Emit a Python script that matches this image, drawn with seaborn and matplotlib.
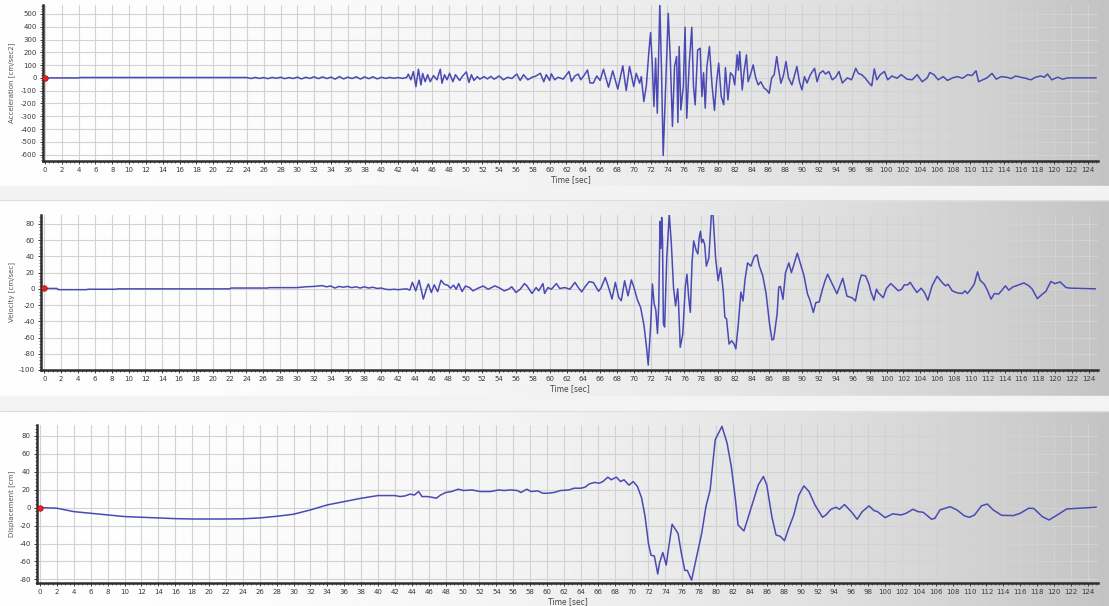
import numpy as np
import pandas as pd
import seaborn as sns
import matplotlib.pyplot as plt
import matplotlib.transforms as mtransforms
from matplotlib.ticker import MultipleLocator

# Accélérogramme : (temps [s], accélération [cm/sec2])
acc_points = [
    (0, 0), (4, 0), (4.2, 3), (24, 3), (24.5, -5), (25, 4), (25.5, -4), (26, 3), (26.5, -6),
    (27, 4), (27.5, -3), (28, 5), (28.5, -6), (29, 3), (29.5, -5), (30, 6), (30.5, -8),
    (31, 5), (31.5, -4), (32, 9), (32.5, -6), (33, 8), (33.5, -5), (34, 6), (34.5, -10),
    (35, 11), (35.5, -8), (36, 6), (36.5, -5), (37, 9), (37.5, -9), (38, 8), (38.5, -6),
    (39, 9), (39.5, -8), (40, 5), (40.5, -4), (41, 4), (41.5, -3), (42, 3), (42.5, -4),
    (43, 4), (43.2, 29), (43.5, -15), (43.8, 50), (44.1, -68), (44.4, 68), (44.7, -55),
    (44.9, 35), (45.2, -30), (45.5, 25), (45.8, -30), (46.2, 18), (46.6, -15), (47, 68),
    (47.2, -42), (47.5, 25), (47.8, -15), (48.1, 36), (48.5, -30), (48.8, 25), (49.3, -20),
    (49.6, 10), (50.1, 47), (50.4, -36), (50.7, 25), (51, -20), (51.4, 10), (51.7, -10),
    (52.2, 10), (52.6, -8), (53, 12), (53.4, -10), (54, 15), (54.5, -15), (55, 5), (55.5, -5),
    (56.1, 30), (56.5, -20), (56.9, 25), (57.4, -15), (58, 8), (58.3, 12), (58.9, 36),
    (59.3, -30), (59.6, 25), (60, -20), (60.2, 32), (60.6, -15), (61, 5), (61.6, -10),
    (62.3, 50), (62.6, -28), (63, 15), (63.4, 30), (63.7, -15), (64.1, 20), (64.5, 62),
    (64.8, -40), (65.2, -40), (65.6, 15), (66.0, -20), (66.4, 68), (67.0, -73), (67.5, 55),
    (68.1, -88), (68.7, 94), (69.1, -99), (69.5, 89), (70.0, -68), (70.3, 36), (70.7, -42),
    (70.9, 10), (71.2, -185), (71.5, -60), (71.8, 205), (72.0, 354), (72.2, 115), (72.4, -224),
    (72.6, 154), (72.8, -276), (73.1, 578), (73.3, 62), (73.5, -607), (73.8, -40), (74.1, 505),
    (74.35, 140), (74.6, -380), (74.85, 90), (75.1, 167), (75.25, -349), (75.4, 245),
    (75.6, -250), (75.9, -60), (76.1, 396), (76.3, -315), (76.6, 115), (76.9, 396), (77.1, -60),
    (77.3, -211), (77.6, 219), (77.9, 232), (78.1, -146), (78.3, 40), (78.5, -237), (78.7, 90),
    (79.0, 245), (79.3, -50), (79.6, -255), (79.85, -30), (80.1, 115), (80.4, -146),
    (80.7, -210), (80.9, 80), (81.2, -172), (81.5, 40), (81.8, 15), (82.0, -55), (82.3, 180),
    (82.45, 60), (82.6, 206), (82.9, -94), (83.1, 40), (83.4, 180), (83.6, -30), (83.9, 30),
    (84.2, 102), (84.5, 0), (84.8, -55), (85.1, -30), (85.5, -80), (85.8, -94), (86.1, -120),
    (86.4, 0), (86.7, 25), (87.0, 167), (87.2, 75), (87.5, -42), (87.8, 20), (88.1, 128),
    (88.4, 0), (88.8, -55), (89.1, 15), (89.4, 89), (89.7, -30), (90.0, -94), (90.3, 10),
    (90.6, -40), (91.0, 25), (91.5, 75), (91.8, -30), (92.1, 35), (92.5, 55), (92.8, 30),
    (93.2, 50), (93.6, -15), (94.0, 5), (94.4, 50), (94.8, -40), (95.4, 0), (95.9, -15),
    (96.4, 75), (96.7, 35), (97.1, 25), (97.5, 0), (98.0, -42), (98.3, -62), (98.6, 70),
    (98.9, -15), (99.3, 25), (99.8, 50), (100.2, -15), (100.7, 15), (101.3, -3), (101.8, 25),
    (102.5, -10), (103.1, -15), (103.7, 25), (104.3, -30), (104.9, 0), (105.2, 42), (105.7, 25),
    (106.2, -15), (106.8, 10), (107.3, -20), (107.9, 0), (108.5, 10), (109.1, -3), (109.7, 25),
    (110.2, 18), (110.7, 55), (111.0, -30), (111.5, -15), (112.0, 0), (112.6, 35), (113.1, -10),
    (113.7, 10), (114.3, 5), (114.9, -5), (115.4, 15), (116.0, 5), (116.6, -3), (117.2, -15),
    (117.8, 5), (118.4, 15), (118.8, 5), (119.2, 30), (119.7, -15), (120.4, 5), (121.0, -10),
    (121.6, 0), (125.0, 0),
]

# Vitesse : (temps [s], vitesse [cm/sec])
vel_points = [
    (0, 0.5), (1.5, 0.5), (1.7, -1), (5, -1), (5.2, -0.5), (8.5, -0.5), (8.7, 0), (22, 0),
    (22.2, 1), (26.5, 1), (26.7, 1.5), (30, 1.5), (31, 2.5), (32, 3), (33, 4), (33.5, 2.5),
    (34, 3.5), (34.5, 1), (35, 3), (35.5, 2), (36, 3), (36.5, 1.5), (37, 2.5), (37.5, 1),
    (38, 2.5), (38.5, 1), (39, 2), (39.5, 0.5), (40, 1), (40.5, -0.5), (41, -1), (41.5, -0.5),
    (42, -1), (42.5, -0.5), (43, 0), (43.4, -1.5), (43.7, 8), (44.1, -2.5), (44.5, 10.6),
    (45.0, -12.6), (45.4, 1), (45.6, 6), (45.95, -4.5), (46.3, 5), (46.7, -3.5), (47.1, 10.6),
    (47.5, 5.5), (47.9, 4.5), (48.2, 0.8), (48.6, 4.5), (48.9, -0.5), (49.2, 6.5), (49.6, -3.3),
    (50.0, 3.5), (50.5, 1.5), (50.9, -2.5), (51.5, 0.8), (52.1, 3.5), (52.7, -0.5), (53.5, 3.7),
    (54.1, 0.8), (54.6, -2.5), (55.1, -0.5), (55.5, 2.5), (56.0, -4.5), (56.5, -0.5), (57.0, 6.5),
    (57.3, 3.7), (57.9, -5.7), (58.4, 1.6), (58.7, -2.5), (59.2, 6.5), (59.4, -5.7), (59.8, 1.6),
    (60.2, -0.5), (60.8, 6.5), (61.2, 0.4), (61.8, 1.6), (62.4, -0.5), (63.0, 8), (63.4, 1.6),
    (63.8, -3.7), (64.2, 2.5), (64.7, 9), (65.2, 7.7), (65.8, -3), (66.1, 1), (66.6, 14),
    (67.0, 1.6), (67.4, -12.6), (67.8, 8), (68.2, -10.6), (68.5, -14.7), (68.9, 10), (69.3, -8.6),
    (69.7, 11), (70.0, 2), (70.4, -13), (70.8, -23), (71.2, -45), (71.5, -72), (71.7, -94),
    (72.0, -43), (72.2, 6), (72.4, -18), (72.6, -26), (72.8, -55), (72.95, -20), (73.1, 83),
    (73.2, 50), (73.3, 88), (73.4, 59), (73.5, -43), (73.65, -47), (73.9, 38), (74.2, 92),
    (74.45, 55), (74.7, 2), (74.95, -21), (75.2, 0), (75.3, -18), (75.5, -72), (75.8, -56),
    (76.1, 2), (76.3, 18), (76.5, -10), (76.7, -29), (76.9, 32), (77.1, 59), (77.4, 47),
    (77.6, 43), (77.75, 63), (77.9, 71), (78.05, 57), (78.2, 61), (78.4, 55), (78.6, 28),
    (78.9, 38), (79.2, 92), (79.4, 91), (79.7, 38), (80.0, 10), (80.3, 26), (80.6, -2),
    (80.8, -35), (81.0, -37), (81.3, -68), (81.6, -64), (81.9, -68), (82.1, -74), (82.4, -43),
    (82.7, -4), (82.95, -15), (83.2, 12), (83.5, 32), (83.9, 28), (84.3, 40), (84.6, 42),
    (84.9, 28), (85.3, 16), (85.7, -6), (86.1, -43), (86.4, -63), (86.6, -62), (87.0, -31),
    (87.2, 2), (87.4, 3), (87.7, -13), (88.0, 20), (88.4, 32), (88.7, 20), (89.0, 30),
    (89.4, 44), (89.8, 30), (90.2, 16), (90.6, -6), (90.9, -14), (91.3, -29), (91.6, -17),
    (92.0, -16), (92.4, 0), (92.7, 10), (93.0, 18), (93.5, 7), (94.1, -6), (94.8, 13),
    (95.3, -9), (95.9, -11), (96.3, -15), (96.7, 6), (97.0, 17), (97.5, 16), (97.9, 6),
    (98.1, -2.5), (98.5, -14), (98.8, -0.4), (99.0, -4.5), (99.6, -11), (100.0, 0.8),
    (100.5, 6.5), (101.0, 1.6), (101.4, -2.4), (101.8, -0.4), (102.1, 4.9), (102.5, 4.9),
    (102.8, 8), (103.2, 1.6), (103.6, -4.5), (104.1, 0.8), (104.5, -4.5), (104.9, -14),
    (105.4, 3.7), (106.0, 15.5), (106.6, 7.7), (107.0, 3.7), (107.3, 5.7), (107.8, -2.5),
    (108.4, -5), (109.0, -5.7), (109.3, -2.5), (109.6, -5.7), (110.0, -0.4), (110.4, 5.7),
    (110.8, 21), (111.1, 10.6), (111.6, 5.7), (112.0, -2.5), (112.4, -12.7), (112.8, -5.7),
    (113.3, -6.5), (113.7, -1.6), (114.1, 3.7), (114.5, -1.6), (115.0, 2.4), (115.7, 4.9),
    (116.3, 7.3), (116.9, 3.7), (117.3, -0.4), (117.9, -12), (118.5, -6.5), (118.9, -3.3),
    (119.5, 9), (120.0, 6.5), (120.6, 8.6), (121.3, 1.6), (121.9, 0.8), (124.8, 0),
]

# Déplacement : (temps [s], déplacement [cm])
disp_points = [
    (0, 0), (2, -0.7), (4, -4.5), (6, -6.3), (8, -8.2), (10, -10), (12, -10.8), (14, -11.5),
    (16, -12.3), (18, -12.7), (20, -12.7), (22, -12.7), (24, -12.5), (26, -11.5), (28, -9.7),
    (30, -7.4), (32, -2.6), (34, 3), (36, 6.7), (38, 10.4), (40, 13.4), (42, 13.4),
    (42.6, 12.3), (43.2, 13), (43.8, 15), (44.3, 14), (44.8, 17.9), (45.2, 12.3), (45.8, 12.3),
    (46.4, 11.5), (46.9, 10.4), (47.4, 14), (48.0, 16.8), (48.7, 17.9), (49.5, 20.5),
    (50.1, 19), (51.1, 19.7), (52.1, 17.9), (53.3, 17.9), (54.3, 19.7), (54.9, 19),
    (55.7, 19.7), (56.5, 19), (56.9, 16.8), (57.6, 20.5), (58.1, 17.9), (58.9, 18.6),
    (59.5, 16), (60.1, 16), (60.8, 16.8), (61.6, 19), (62.6, 19.7), (63.2, 21.6), (64.0, 21.6),
    (64.5, 22.7), (65.0, 26.4), (65.6, 28), (66.2, 27.2), (66.6, 29), (67.2, 33.9), (67.6, 31),
    (68.2, 33.9), (68.7, 29), (69.1, 31), (69.7, 25), (70.2, 29), (70.7, 23.5), (71.2, 10.4),
    (71.6, -10), (72.0, -40), (72.3, -53), (72.7, -54), (73.1, -74), (73.3, -62), (73.7, -50),
    (74.1, -64), (74.4, -44), (74.8, -18.6), (75.1, -23), (75.5, -28.7), (75.9, -51),
    (76.3, -70), (76.6, -70), (77.1, -80.8), (77.7, -55), (78.3, -28.7), (78.8, 1),
    (79.3, 19.7), (79.9, 75.6), (80.3, 83), (80.7, 90.5), (81.3, 72), (81.8, 45.8), (82.3, 8.6),
    (82.6, -19.4), (83.3, -26), (84.2, 1), (85.0, 25.3), (85.6, 34.6), (86.0, 25.3), (86.6, -10),
    (87.1, -30.5), (87.6, -32), (88.1, -36.9), (88.6, -23), (89.2, -8.2), (89.8, 14),
    (90.4, 24.2), (91.0, 17.9), (91.7, 3), (92.6, -10.8), (93.0, -8.2), (93.6, -1.9),
    (94.2, 0.4), (94.6, -1.9), (95.2, 3.4), (96.0, -4.5), (96.7, -13), (97.3, -4.5),
    (98.1, 1.9), (98.7, -3.4), (99.1, -4.5), (100.0, -11.2), (100.9, -7), (101.9, -8.2),
    (102.5, -6.3), (103.3, -1.9), (103.9, -4.5), (104.5, -5.2), (104.9, -8.2), (105.5, -13),
    (105.9, -11.9), (106.5, -2.6), (107.7, 1), (108.5, -2.6), (109.4, -9.3), (110.0, -10.8),
    (110.6, -8.2), (111.4, 1.9), (112.1, 4), (112.8, -2.6), (113.8, -8.6), (115.2, -8.9),
    (116.0, -6.3), (117.0, -0.7), (117.6, -1), (118.6, -10), (119.4, -13.8), (120.2, -9.3),
    (121.0, -4.5), (121.5, -1.5), (122.9, -0.7), (125.0, 0.4),
]

y_labels = ['Acceleration [cm/sec2]', 'Velocity [cm/sec]', 'Displacement [cm]']
x_label = 'Time [sec]'
y_ticks = [np.arange(-600, 501, 100), np.arange(-100, 81, 20), np.arange(-80, 81, 20)]
x_ticks = np.arange(0, 125, 2)

# Mise en page (pixels de l'image 1109 x 606) : gauche, droite, haut, bas
W, H = 1109, 606
boxes = [(43, 1098, 5, 161), (41, 1098, 215, 370), (37, 1098, 425, 583)]
xlims = [(-0.24, 125.2), (-0.39, 125.1), (-0.36, 125.2)]
ylims = [(-650, 570), (-100, 91), (-84, 92)]
minor_y = [20, 4, 4]

sns.set_theme(style='ticks')
plt.rcParams['font.family'] = ['DejaVu Sans']
plt.rcParams['axes.unicode_minus'] = False

fig = plt.figure(figsize=(W / 100, H / 100), dpi=100)

# Fond dégradé blanc -> gris
bg = fig.add_axes([0, 0, 1, 1], zorder=-10)
xx = np.linspace(0, 1, 800)
shade = 0.995 - 0.23 * xx ** 2.2
bg.imshow(np.tile(shade, (4, 1)), cmap='gray', vmin=0, vmax=1, aspect='auto',
          extent=[0, 1, 0, 1], interpolation='bilinear')
for top, bot in [(186, 200), (396, 411)]:
    bg.axhspan(1 - bot / H, 1 - top / H, color='#f3f3f3', zorder=2)
    bg.axhline(1 - bot / H, color='#dedede', lw=0.8, zorder=3)
bg.set_xlim(0, 1)
bg.set_ylim(0, 1)
bg.set_axis_off()

series = [acc_points, vel_points, disp_points]
for i, pts in enumerate(series):
    l, r, t, b = boxes[i]
    ax = fig.add_axes([l / W, 1 - b / H, (r - l) / W, (b - t) / H])
    ax.set_facecolor('none')

    df = pd.DataFrame(pts, columns=['t', 'v'])
    sns.lineplot(data=df, x='t', y='v', ax=ax, color='#4a4ab4', linewidth=1.1,
                 estimator=None, sort=False)
    ax.plot(df['t'].iloc[0], df['v'].iloc[0], 'o', color='#e8231e', ms=4,
            mec='#a01010', mew=0.5, zorder=5, clip_on=False)

    ax.set_xlim(*xlims[i])
    ax.set_ylim(*ylims[i])
    ax.set_xticks(x_ticks)
    ax.set_yticks(y_ticks[i])
    ax.xaxis.set_minor_locator(MultipleLocator(0.5))
    ax.yaxis.set_minor_locator(MultipleLocator(minor_y[i]))
    ax.grid(True, which='major', color='#d2d2d2', linewidth=0.8)
    ax.set_axisbelow(True)

    for s in ['top', 'right']:
        ax.spines[s].set_visible(False)
    for s in ['left', 'bottom']:
        ax.spines[s].set_color('#2e2e2e')
        ax.spines[s].set_linewidth(1.8)

    ax.tick_params(which='major', labelsize=5, colors='#3a3a3a', length=2.5, width=0.7,
                   pad=2, bottom=True, left=True)
    ax.tick_params(which='minor', length=1.5, width=0.6, colors='#555555',
                   bottom=True, left=True)

    ax.set_ylabel(y_labels[i], fontsize=5, color='#555555')
    ax.yaxis.set_label_coords(15 / W, 0.5,
                              transform=mtransforms.blended_transform_factory(fig.transFigure, ax.transAxes))
    ax.set_xlabel(x_label, fontsize=5.5, color='#444444', labelpad=1)

fig.savefig('out.png', dpi=100)
